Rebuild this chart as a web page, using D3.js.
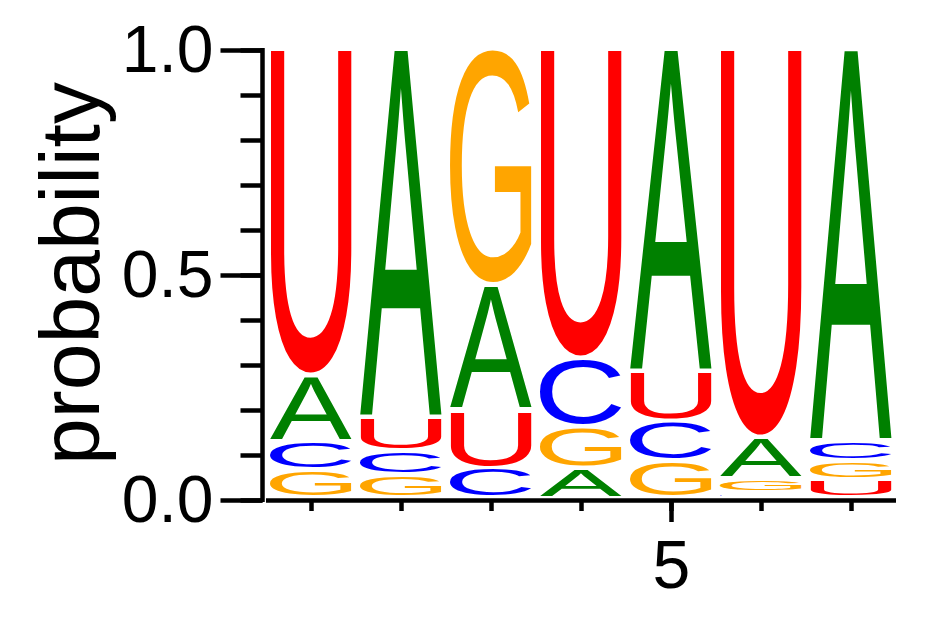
<!DOCTYPE html>
<html>
<head>
<meta charset="utf-8">
<script src="https://cdn.jsdelivr.net/npm/d3@7"></script>
<style>
  html, body { margin: 0; padding: 0; background: #fff; }
  svg { display: block; }
</style>
</head>
<body>
<div id="chart"></div>
<script>
// ---- data ----
const positions = [1, 2, 3, 4, 5, 6, 7];
const bases = ["A", "C", "G", "U"];
const probA = [0.147, 0.820, 0.278, 0.067, 0.718, 0.091, 0.872];
const probC = [0.064, 0.053, 0.067, 0.153, 0.089, 0.013, 0.045];
const probG = [0.062, 0.051, 0.526, 0.091, 0.082, 0.031, 0.042];
const probU = [0.727, 0.076, 0.129, 0.689, 0.111, 0.865, 0.041];
const yMajorTicks = [0, 0.5, 1.0];
const xLabelTicks = [5];
const yTitle = "probability";

const baseColor = { A: "#008000", C: "#0000ff", G: "#ffa500", U: "#ff0000" };
const probs = { A: probA, C: probC, G: probG, U: probU };

// ---- layout ----
const W = 942, H = 617;
const svg = d3.select("#chart").append("svg").attr("width", W).attr("height", H);

const x = d3.scaleLinear().domain([0.5, 7.5]).range([266, 896]);
const y = d3.scaleLinear().domain([0, 1]).range([500, 50]);
const colW = x(1.5) - x(0.5);
const padX = 4, padBottom = 4.5;

// glyph tight-bound metrics via canvas
const mctx = document.createElement("canvas").getContext("2d");
const FONT = '"Liberation Sans", Arial, Helvetica, sans-serif';
mctx.font = "100px " + FONT;
const metric = {};
bases.forEach(b => {
  const m = mctx.measureText(b);
  metric[b] = { l: m.actualBoundingBoxLeft, r: m.actualBoundingBoxRight,
                a: m.actualBoundingBoxAscent, d: m.actualBoundingBoxDescent };
});

// build stacks
const stacks = positions.map((p, i) => {
  const items = bases.map(b => ({ base: b, value: probs[b][i] }))
    .sort((a, b) => a.value - b.value);
  let cum = 0;
  items.forEach(it => { it.y0 = cum; cum += it.value; it.y1 = cum; it.pos = p; });
  return items;
});

const gLogo = svg.append("g");
stacks.forEach(items => {
  items.forEach(it => {
    const m = metric[it.base];
    const x0 = x(it.pos) - colW / 2 + padX;
    const w = colW - 2 * padX;
    const yTop = y(it.y1);
    let h = y(it.y0) - padBottom - yTop;
    let sx = w / (m.l + m.r);
    let sy;
    if (h < 3) {
      h = Math.max(h, 1.5);
      sy = h / (m.a + m.d);
      sx = sy;
    } else {
      sy = h / (m.a + m.d);
    }
    gLogo.append("text")
      .attr("x", 0).attr("y", 0)
      .attr("font-family", FONT)
      .attr("font-size", 100)
      .attr("fill", baseColor[it.base])
      .attr("transform", `translate(${x0 + m.l * sx},${yTop + m.a * sy}) scale(${sx},${sy})`)
      .text(it.base);
  });
});

// ---- Y axis ----
const axisX = 262.5;
const yMinor = svg.append("g").attr("transform", `translate(${axisX},0)`)
  .call(d3.axisLeft(y).tickValues(d3.range(0, 11).map(d => d / 10))
        .tickSize(22).tickSizeOuter(0).tickFormat(""));
const yMajor = svg.append("g").attr("transform", `translate(${axisX},0)`)
  .call(d3.axisLeft(y).tickValues(yMajorTicks).tickSize(42).tickSizeOuter(0)
        .tickPadding(7).tickFormat(d3.format(".1f")));
[yMinor, yMajor].forEach(g => {
  g.select(".domain").remove();
  g.selectAll(".tick line").attr("stroke", "#000").attr("stroke-width", 4.5);
});
yMajor.selectAll(".tick text").attr("font-family", FONT).attr("font-size", 66).attr("fill", "#000");
svg.append("line").attr("x1", axisX).attr("x2", axisX)
  .attr("y1", y(0) + 2).attr("y2", y(1) - 2)
  .attr("stroke", "#000").attr("stroke-width", 4.5);

// ---- X axis ----
const axisY = 500.5;
const xMinor = svg.append("g").attr("transform", `translate(0,${axisY})`)
  .call(d3.axisBottom(x).tickValues(positions).tickSize(10.5).tickSizeOuter(0).tickFormat(""));
const xMajor = svg.append("g").attr("transform", `translate(0,${axisY})`)
  .call(d3.axisBottom(x).tickValues(xLabelTicks).tickSize(21.5).tickSizeOuter(0)
        .tickPadding(18).tickFormat(d3.format("d")));
[xMinor, xMajor].forEach(g => {
  g.select(".domain").remove();
  g.selectAll(".tick line").attr("stroke", "#000").attr("stroke-width", 4.5);
});
xMajor.selectAll(".tick text").attr("font-family", FONT).attr("font-size", 68).attr("fill", "#000");
svg.append("line").attr("x1", x(0.5)).attr("x2", x(7.5))
  .attr("y1", axisY).attr("y2", axisY)
  .attr("stroke", "#000").attr("stroke-width", 4.5);

// ---- Y title ----
svg.append("text")
  .attr("transform", "translate(99,273.5) rotate(-90)")
  .attr("text-anchor", "middle")
  .attr("font-family", FONT)
  .attr("font-size", 84)
  .attr("fill", "#000")
  .text(yTitle);
</script>
</body>
</html>
